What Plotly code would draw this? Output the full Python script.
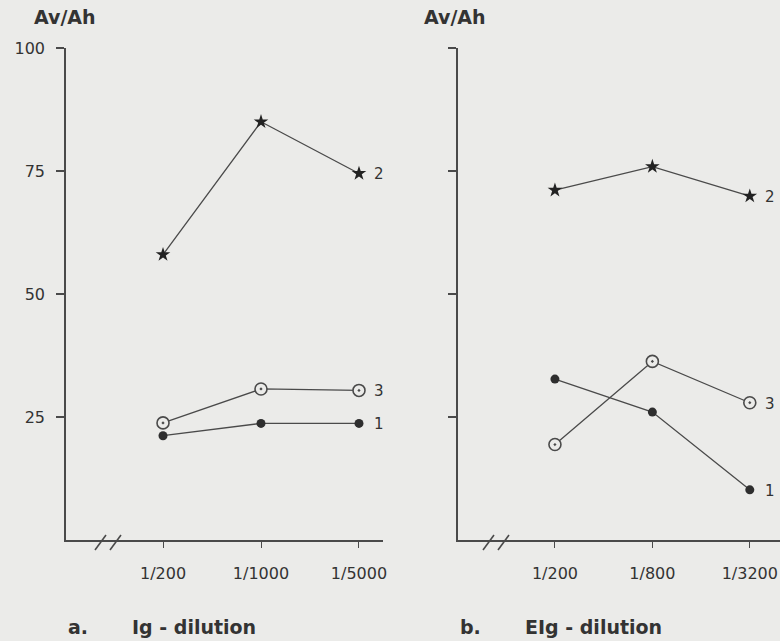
import plotly.graph_objects as go

# ---- data ----
dil_a = ["1/200", "1/1000", "1/5000"]
dil_b = ["1/200", "1/800", "1/3200"]
a_s1 = [21.2, 23.7, 23.7]
a_s2 = [58.0, 85.0, 74.5]
a_s3 = [23.8, 30.7, 30.4]
b_s1 = [32.7, 26.0, 10.2]
b_s2 = [71.1, 75.9, 69.9]
b_s3 = [19.4, 36.3, 27.9]
y_ticks = [25, 50, 75, 100]

W, H = 780, 641
BG = "#ebebe9"
INK = "#4a4a4a"
TXT = "#333333"
FONT = "DejaVu Sans, sans-serif"

fig = go.Figure()

marker_styles = {
    "1": dict(symbol="circle", size=9, color="#2e2e2e", line=dict(width=0)),
    "2": dict(symbol="star", size=11, color="#222", line=dict(width=0)),
    "3": dict(symbol="circle-dot", size=12, color=BG, line=dict(width=1.6, color=INK)),
}

pos = [0, 1, 2]
for xa, ya, data in [("x", "y", {"1": a_s1, "2": a_s2, "3": a_s3}),
                     ("x2", "y2", {"1": b_s1, "2": b_s2, "3": b_s3})]:
    for name in ["1", "3", "2"]:
        fig.add_trace(go.Scatter(
            x=pos, y=data[name], mode="lines+markers", xaxis=xa, yaxis=ya,
            line=dict(color=INK, width=1.3), marker=marker_styles[name],
            showlegend=False, hoverinfo="skip"))
        fig.add_annotation(x=pos[-1], y=data[name][-1], xref=xa, yref=ya,
                           text=name, showarrow=False, xanchor="left",
                           xshift=13, yshift=-1,
                           font=dict(family=FONT, size=15, color=TXT))

common_y = dict(range=[0, 100], tickvals=y_ticks, showline=True, linecolor=INK,
                linewidth=1.5, ticks="outside", ticklen=8, tickcolor=INK,
                tickwidth=1.5, showgrid=False, zeroline=False,
                domain=[(H - 540) / H, (H - 48) / H])

common_x = dict(tickvals=pos, showline=True, linecolor=INK, linewidth=1.5,
                ticks="outside", ticklen=6, tickcolor=INK, tickwidth=1.2,
                showgrid=False, zeroline=False,
                tickfont=dict(family=FONT, size=16, color=TXT),
                ticklabelstandoff=12)

fig.update_layout(
    width=W, height=H, margin=dict(l=0, r=0, t=0, b=0, autoexpand=False),
    paper_bgcolor=BG, plot_bgcolor=BG,
    font=dict(family=FONT, color=TXT),
    xaxis=dict(**common_x, domain=[66 / W, 383 / W], range=[-0.99, 2.245],
               ticktext=dil_a, anchor="y"),
    xaxis2=dict(**common_x, domain=[458 / W, 1.0], range=[-0.995, 2.31],
                ticktext=dil_b, anchor="y2"),
    yaxis=dict(**common_y, anchor="x", showticklabels=True,
               tickfont=dict(family=FONT, size=16, color=TXT), ticklabelstandoff=8),
    yaxis2=dict(**common_y, anchor="x2", showticklabels=False),
)

# axis break marks "//" (decoration, in paper coordinates)
for px in [95, 110, 483, 498]:
    fig.add_shape(type="line", xref="paper", yref="paper",
                  x0=px / W, x1=(px + 11) / W,
                  y0=(H - 550) / H, y1=(H - 535) / H,
                  line=dict(color=INK, width=1.6))

# titles
for x, text in [(32, "Av/Ah"), (422, "Av/Ah")]:
    fig.add_annotation(x=x / W, y=(H - 17) / H, xref="paper", yref="paper",
                       text="<b>" + text + "</b>", showarrow=False, xanchor="left",
                       yanchor="middle",
                       font=dict(family=FONT, size=19, color=TXT))

for x, text in [(66, "a."), (130, "Ig - dilution"), (458, "b."), (523, "EIg - dilution")]:
    fig.add_annotation(x=x / W, y=(H - 627) / H, xref="paper", yref="paper",
                       text="<b>" + text + "</b>", showarrow=False, xanchor="left",
                       yanchor="middle",
                       font=dict(family=FONT, size=19, color=TXT))

fig.write_html("out.html")
